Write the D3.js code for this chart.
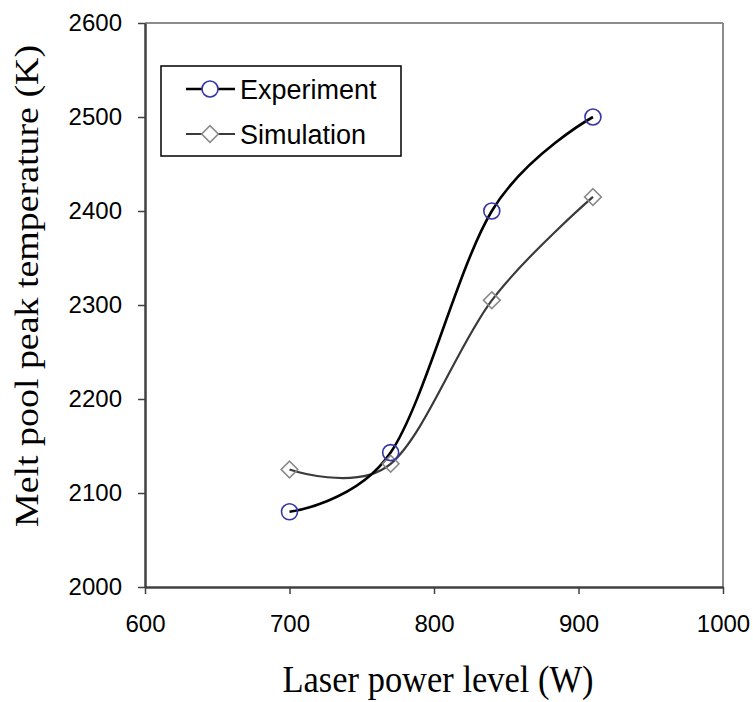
<!DOCTYPE html>
<html>
<head>
<meta charset="utf-8">
<script src="https://cdn.jsdelivr.net/npm/d3@7"></script>
<style>
  body { margin: 0; background: #fff; }
</style>
</head>
<body>
<div id="chart"></div>
<script>
var powerLevels = [700, 770, 840, 910];
var experimentTemps = [2080, 2143, 2400, 2500];
var simulationTemps = [2125, 2131, 2305, 2415];
var xTicks = [600, 700, 800, 900, 1000];
var yTicks = [2000, 2100, 2200, 2300, 2400, 2500, 2600];

var margin = {top: 23, right: 30, bottom: 115, left: 145},
    width = 723 - margin.left,
    height = 587 - margin.top;

var svg = d3.select("#chart")
    .append("svg")
    .attr("width", 753)
    .attr("height", 702)
    .append("g")
        .attr("transform", "translate(" + margin.left + "," + margin.top + ")");

var x = d3.scaleLinear().domain([600, 1000]).range([0, width]);
var y = d3.scaleLinear().domain([2000, 2600]).range([height, 0]);

// frame: top and right lighter
svg.append("line").attr("x1", 0).attr("x2", width).attr("y1", 0).attr("y2", 0)
    .attr("stroke", "#8c8c8c").attr("stroke-width", 2);
svg.append("line").attr("x1", width).attr("x2", width).attr("y1", 0).attr("y2", height)
    .attr("stroke", "#8c8c8c").attr("stroke-width", 2);

var xAxis = svg.append("g")
    .attr("transform", "translate(0," + height + ")")
    .call(d3.axisBottom(x).tickValues(xTicks).tickFormat(d3.format("d"))
        .tickSize(7).tickSizeOuter(0).tickPadding(21));
var yAxis = svg.append("g")
    .call(d3.axisLeft(y).tickValues(yTicks).tickFormat(d3.format("d"))
        .tickSize(7).tickSizeOuter(0).tickPadding(16));

[xAxis, yAxis].forEach(function(a) {
    a.select(".domain").attr("stroke", "#404040").attr("stroke-width", 2.5);
    a.selectAll(".tick line").attr("stroke", "#404040").attr("stroke-width", 1.5);
    a.selectAll(".tick text")
        .attr("fill", "#000")
        .style("font-family", "Arial, 'Liberation Sans', sans-serif")
        .style("font-size", "24px");
});

var line = d3.line()
    .x(function(d) { return x(d[0]); })
    .y(function(d) { return y(d[1]); })
    .curve(d3.curveCatmullRom.alpha(0));

var expData = powerLevels.map(function(p, i) { return [p, experimentTemps[i]]; });
var simData = powerLevels.map(function(p, i) { return [p, simulationTemps[i]]; });

svg.append("path").datum(simData)
    .attr("d", line).attr("fill", "none")
    .attr("stroke", "#3a3a3a").attr("stroke-width", 2.2);
svg.append("path").datum(expData)
    .attr("d", line).attr("fill", "none")
    .attr("stroke", "#000").attr("stroke-width", 2.6);

var diamond = d3.symbol().type(d3.symbolSquare).size(140);

svg.selectAll(".sim")
    .data(simData)
    .enter()
    .append("path")
      .attr("d", diamond)
      .attr("transform", function(d) { return "translate(" + x(d[0]) + "," + y(d[1]) + ") rotate(45)"; })
      .attr("fill", "none")
      .attr("stroke", "#8a8a8a")
      .attr("stroke-width", 1.6);

svg.selectAll(".exp")
    .data(expData)
    .enter()
    .append("circle")
      .attr("cx", function(d) { return x(d[0]); })
      .attr("cy", function(d) { return y(d[1]); })
      .attr("r", 8)
      .attr("fill", "none")
      .attr("stroke", "#3535a8")
      .attr("stroke-width", 1.6);

// legend
var lg = svg.append("g").attr("transform", "translate(" + (161 - margin.left) + "," + (66 - margin.top) + ")");
lg.append("rect").attr("width", 240).attr("height", 90)
    .attr("fill", "#fff").attr("stroke", "#000").attr("stroke-width", 1.5);

var legendItems = [
    {name: "Experiment", color: "#000", mark: "circle", cy: 23},
    {name: "Simulation", color: "#3a3a3a", mark: "diamond", cy: 68}
];
legendItems.forEach(function(d) {
    lg.append("line").attr("x1", 25).attr("x2", 74).attr("y1", d.cy).attr("y2", d.cy)
        .attr("stroke", d.color).attr("stroke-width", d.mark === "circle" ? 2.6 : 2.2);
    if (d.mark === "circle") {
        lg.append("circle").attr("cx", 49).attr("cy", d.cy).attr("r", 8)
            .attr("fill", "#fff").attr("stroke", "#3535a8").attr("stroke-width", 1.6);
    } else {
        lg.append("path").attr("d", diamond)
            .attr("transform", "translate(49," + d.cy + ") rotate(45)")
            .attr("fill", "#fff").attr("stroke", "#8a8a8a").attr("stroke-width", 1.6);
    }
    lg.append("text").attr("x", 79).attr("y", d.cy + 10)
        .text(d.name)
        .style("font-family", "Arial, 'Liberation Sans', sans-serif")
        .style("font-size", "27px");
});

// axis titles (source image is slightly stretched vertically)
svg.append("text")
    .attr("transform", "translate(" + (width / 2 + 4) + "," + (height + 105) + ") scale(1,1.12)")
    .attr("text-anchor", "middle")
    .style("font-family", "'Times New Roman', 'Liberation Serif', serif")
    .style("font-size", "34.5px")
    .text("Laser power level (W)");

svg.append("text")
    .attr("transform", "translate(" + (-107) + "," + (height / 2 - 19) + ") rotate(-90) scale(1.115,1)")
    .attr("text-anchor", "middle")
    .style("font-family", "'Times New Roman', 'Liberation Serif', serif")
    .style("font-size", "34px")
    .text("Melt pool peak temperature (K)");
</script>
</body>
</html>
